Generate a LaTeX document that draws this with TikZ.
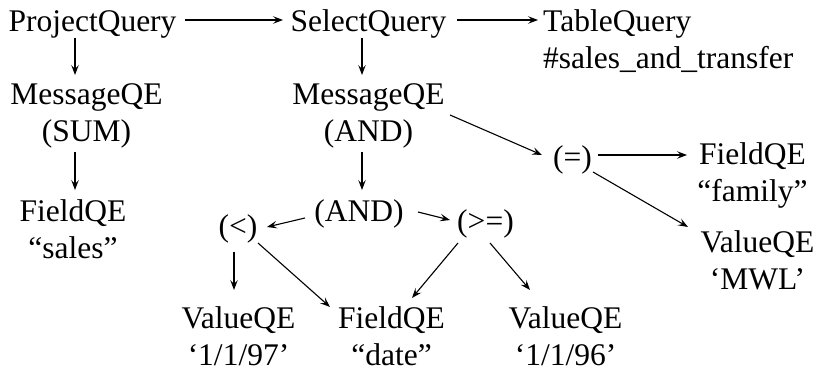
\documentclass[tikz,border=0pt]{standalone}
\usepackage{fontspec}
\setmainfont{Liberation Serif}
\usetikzlibrary{arrows.meta}

\tikzset{
  qe/.style={inner sep=0pt, align=center, anchor=base,
    font=\fontsize{31.5}{37}\selectfont},
  qeleft/.style={qe, align=left, anchor=base west},
  arr/.style={line width=1.1pt, -{Stealth[length=10pt,width=7.5pt,inset=4pt]}},
}

\begin{document}
\begin{tikzpicture}[x=1pt, y=-1pt]
\useasboundingbox (0,0) rectangle (820,374);

% query nodes (the base anchor sits on the last line)
\node[qe] (pq) at (92.5,32) {ProjectQuery};
\node[qe] (sq) at (368.5,32) {SelectQuery};
\node[qeleft] (tq) at (543,69) {TableQuery\\\#sales\_and\_transfer};
\node[qe] (msum) at (86.5,142) {MessageQE\\(SUM)};
\node[qe] (fsales) at (73,259) {FieldQE\\“sales”};
\node[qe] (mand) at (368.5,142) {MessageQE\\(AND)};
\node[qe] (andm) at (359,222) {(AND)};
\node[qe] (lt) at (238,237) {(<)};
\node[qe] (ge) at (485.5,232) {(>=)};
\node[qe] (eq) at (572.5,168) {(=)};
\node[qe] (ffam) at (752.5,202) {FieldQE\\“family”};
\node[qe] (vmwl) at (757.5,290) {ValueQE\\‘MWL’};
\node[qe] (v97) at (238.5,366) {ValueQE\\‘1/1/97’};
\node[qe] (fdate) at (391.5,366) {FieldQE\\“date”};
\node[qe] (v96) at (565.5,366) {ValueQE\\‘1/1/96’};

% connectors
\draw[arr] ([shift={(92.5,-12)}]pq.base) -- ([shift={(-85.5,-12)}]sq.base);
\draw[arr] ([shift={(88.5,-12)}]sq.base) -- ([shift={(-5,-49)}]tq.base west);
\draw[arr] ([shift={(-17.5,6)}]pq.base) -- ([shift={(-11.5,-67)}]msum.base);
\draw[arr] ([shift={(-11.5,10)}]msum.base) -- ([shift={(2,-69)}]fsales.base);
\draw[arr] ([shift={(-6.5,6)}]sq.base) -- ([shift={(-6.5,-67)}]mand.base);
\draw[arr] ([shift={(-6.5,10)}]mand.base) -- ([shift={(3,-32)}]andm.base);
\draw[arr] ([shift={(81.5,-27)}]mand.base) -- ([shift={(-30.5,-13)}]eq.base);
\draw[arr] ([shift={(25.5,-13)}]eq.base) -- ([shift={(-65.5,-47)}]ffam.base);
\draw[arr] ([shift={(20.5,4)}]eq.base) -- ([shift={(-69.5,-63)}]vmwl.base);
\draw[arr] ([shift={(-54,-4)}]andm.base) -- ([shift={(29,-10)}]lt.base);
\draw[arr] ([shift={(59,-10)}]andm.base) -- ([shift={(-35.5,-12)}]ge.base);
\draw[arr] ([shift={(-4,15)}]lt.base) -- ([shift={(-4.5,-76)}]v97.base);
\draw[arr] ([shift={(20,6)}]lt.base) -- ([shift={(-61.5,-59)}]fdate.base);
\draw[arr] ([shift={(-27.5,11)}]ge.base) -- ([shift={(20.5,-68)}]fdate.base);
\draw[arr] ([shift={(4.5,11)}]ge.base) -- ([shift={(-35.5,-76)}]v96.base);
\end{tikzpicture}
\end{document}
